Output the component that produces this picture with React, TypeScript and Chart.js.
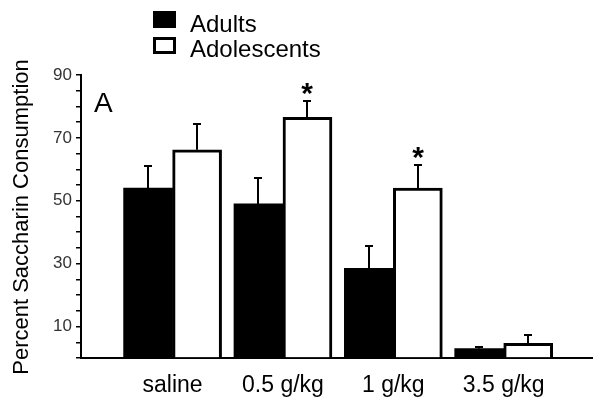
import React, { useEffect, useRef } from 'react';
import { Chart, registerables } from 'chart.js';

Chart.register(...registerables);

const categories = ['saline', '0.5 g/kg', '1 g/kg', '3.5 g/kg'];
const adults = [54, 49, 28.5, 3];
const adultsSem = [7, 8.2, 7.2, 0.6];
const adolescents = [66.2, 76.5, 54, 4.7];
const adolescentsSem = [8.2, 5.3, 7.4, 2.6];
const adolescentsSignificant = [false, true, true, false];
const yTickLabels = [10, 30, 50, 70, 90];
const seriesNames = ['Adults', 'Adolescents'];
const panelLabel = 'A';
const yTitle = 'Percent Saccharin Consumption';

const FONT = '"Liberation Sans", Arial, sans-serif';

const overlay = {
  id: 'overlay',
  afterDatasetsDraw(chart: any) {
    const ctx = chart.ctx as CanvasRenderingContext2D;
    const y = chart.scales.y;
    const sems = [adultsSem, adolescentsSem];
    ctx.save();
    ctx.strokeStyle = '#000';
    ctx.lineWidth = 2;
    chart.data.datasets.forEach((ds: any, di: number) => {
      const meta = chart.getDatasetMeta(di);
      meta.data.forEach((bar: any, i: number) => {
        const val = ds.data[i].y;
        const top = Math.round(y.getPixelForValue(val + sems[di][i]));
        const base = y.getPixelForValue(val);
        const cx = Math.round(bar.x);
        ctx.beginPath();
        ctx.moveTo(cx, base);
        ctx.lineTo(cx, top);
        ctx.moveTo(cx - 4, top);
        ctx.lineTo(cx + 4, top);
        ctx.stroke();
        if (di === 1 && adolescentsSignificant[i]) {
          ctx.fillStyle = '#000';
          ctx.font = 'bold 30px ' + FONT;
          ctx.textAlign = 'center';
          const m = ctx.measureText('*');
          const asc = m.actualBoundingBoxAscent;
          const desc = m.actualBoundingBoxDescent;
          const centerY = top - 12;
          ctx.textBaseline = 'alphabetic';
          ctx.fillText('*', cx, centerY + (asc - desc) / 2);
        }
      });
    });
    ctx.restore();
  },
  afterDraw(chart: any) {
    const ctx = chart.ctx as CanvasRenderingContext2D;
    ctx.save();
    // legend
    ctx.fillStyle = '#000';
    ctx.fillRect(153, 11, 23, 17);
    ctx.strokeStyle = '#000';
    ctx.lineWidth = 3;
    ctx.strokeRect(154.5, 38.5, 20, 14);
    ctx.font = '24px ' + FONT;
    ctx.textAlign = 'left';
    ctx.textBaseline = 'alphabetic';
    ctx.fillText(seriesNames[0], 190, 32);
    ctx.fillText(seriesNames[1], 190, 57);
    // panel label
    ctx.font = '28px ' + FONT;
    ctx.fillText(panelLabel, 94, 112);
    // y title
    ctx.translate(22, 217);
    ctx.rotate(-Math.PI / 2);
    ctx.font = '22px ' + FONT;
    ctx.textAlign = 'center';
    ctx.textBaseline = 'middle';
    ctx.fillText(yTitle, 0, 0);
    ctx.restore();
  },
};

export default function App() {
  const ref = useRef<HTMLCanvasElement | null>(null);
  useEffect(() => {
    if (!ref.current) return;
    const chart = new Chart(ref.current, {
      type: 'bar',
      data: {
        datasets: [
          {
            label: seriesNames[0],
            data: adults.map((v, i) => ({ x: i + 1, y: v })),
            backgroundColor: '#000',
            borderWidth: 0,
            barThickness: 49,
          },
          {
            label: seriesNames[1],
            data: adolescents.map((v, i) => ({ x: i + 1, y: v })),
            backgroundColor: '#fff',
            borderColor: '#000',
            borderWidth: 3,
            barThickness: 49,
          },
        ],
      },
      options: {
        animation: false,
        responsive: false,
        layout: { padding: { left: 40, top: 75, right: 9, bottom: 0 } },
        plugins: { legend: { display: false }, tooltip: { enabled: false } },
        scales: {
          x: {
            type: 'linear',
            min: 0.17,
            max: 4.8,
            offset: false,
            z: 1,
            afterBuildTicks: (scale: any) => {
              scale.ticks = categories.map((_, i) => ({ value: i + 1 }));
            },
            afterFit: (scale: any) => {
              scale.height = 47;
            },
            grid: { display: false, drawTicks: false, offset: false },
            border: { display: true, color: '#000', width: 2 },
            ticks: {
              autoSkip: false,
              maxRotation: 0,
              padding: 14,
              color: '#000',
              font: { family: FONT, size: 23 },
              callback: (v: any) => categories[Math.round(v) - 1] ?? '',
            },
          },
          y: {
            min: 0,
            max: 90,
            afterFit: (scale: any) => {
              scale.width = 41;
            },
            grid: { display: true, drawOnChartArea: false, drawTicks: true, tickLength: 5, color: '#000', lineWidth: 1.5 },
            border: { display: true, color: '#000', width: 2 },
            ticks: {
              stepSize: 5,
              autoSkip: false,
              padding: 4,
              color: '#333',
              font: { family: FONT, size: 17 },
              callback: (v: any) => (yTickLabels.includes(v) ? String(v) : ''),
            },
          },
        },
      },
      plugins: [overlay],
    } as any);
    return () => chart.destroy();
  }, []);
  return (
    <div style={{ position: 'fixed', left: 0, top: 0, width: 601, height: 405, background: '#fff' }}>
      <canvas ref={ref} width={601} height={405} />
    </div>
  );
}
